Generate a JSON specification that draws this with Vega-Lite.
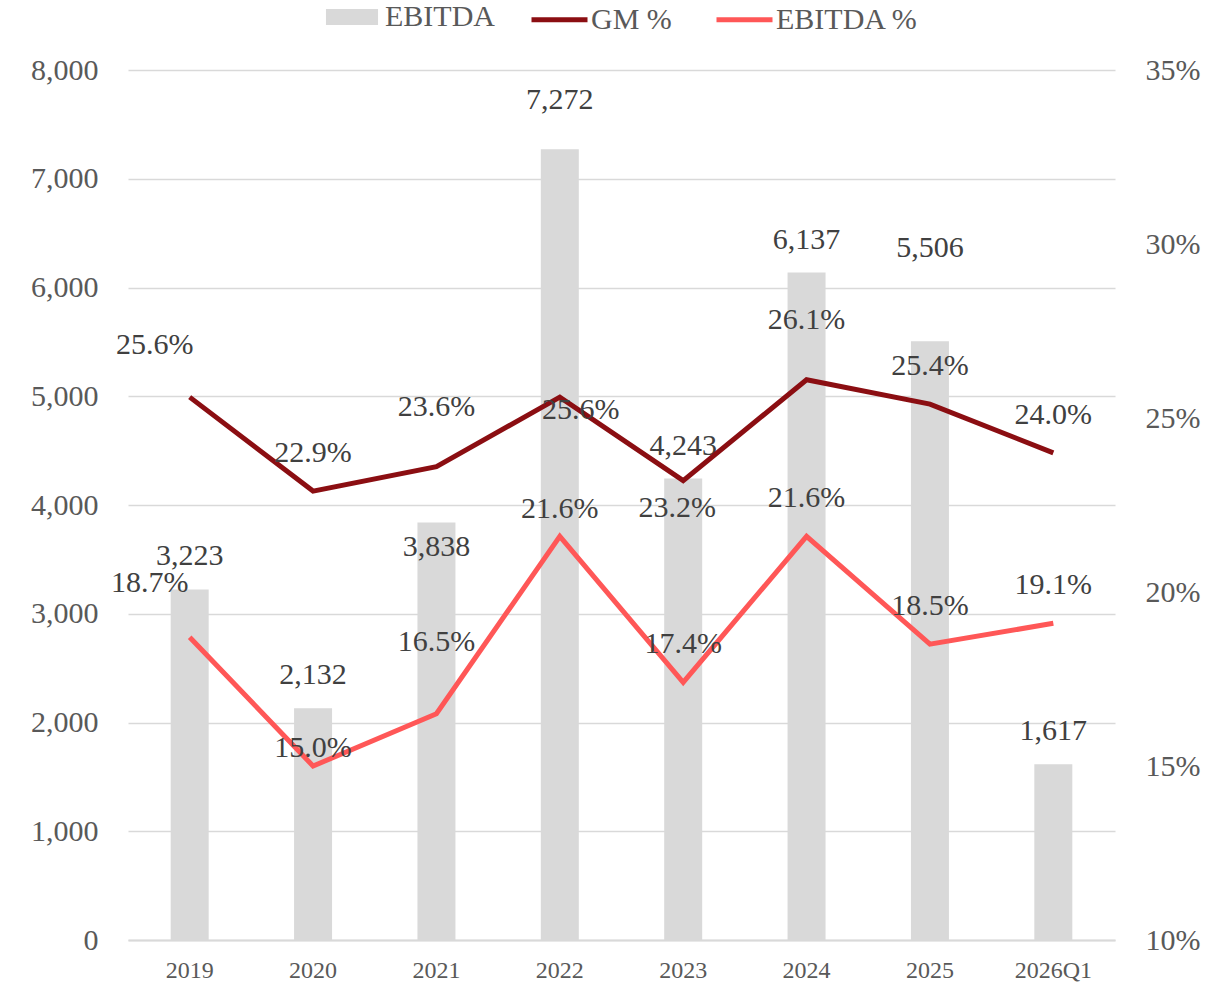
{
  "$schema": "https://vega.github.io/schema/vega-lite/v6.json",
  "width": 987,
  "height": 870,
  "autosize": "none",
  "padding": {"left": 128, "top": 70, "right": 101, "bottom": 55},
  "background": "white",
  "data": {
    "values": [
      {"year": "2019", "EBITDA": 3223, "GM %": 0.256, "EBITDA %": 0.187},
      {"year": "2020", "EBITDA": 2132, "GM %": 0.229, "EBITDA %": 0.150},
      {"year": "2021", "EBITDA": 3838, "GM %": 0.236, "EBITDA %": 0.165},
      {"year": "2022", "EBITDA": 7272, "GM %": 0.256, "EBITDA %": 0.216},
      {"year": "2023", "EBITDA": 4243, "GM %": 0.232, "EBITDA %": 0.174},
      {"year": "2024", "EBITDA": 6137, "GM %": 0.261, "EBITDA %": 0.216},
      {"year": "2025", "EBITDA": 5506, "GM %": 0.254, "EBITDA %": 0.185},
      {"year": "2026Q1", "EBITDA": 1617, "GM %": 0.240, "EBITDA %": 0.191}
    ]
  },
  "encoding": {
    "x": {
      "field": "year", "type": "nominal", "sort": null,
      "scale": {"paddingInner": 0, "paddingOuter": 0},
      "axis": {"title": null, "labelAngle": 0, "labelFontSize": 24, "labelColor": "#595959", "labelPadding": 18, "ticks": false, "domainColor": "#d9d9d9", "domainWidth": 2, "grid": false}
    }
  },
  "layer": [
    {
      "encoding": {
        "y": {
          "field": "EBITDA", "type": "quantitative",
          "scale": {"domain": [0, 8000], "nice": false},
          "axis": {"title": null, "orient": "left", "values": [0,1000,2000,3000,4000,5000,6000,7000,8000], "format": ",d", "labelFontSize": 30, "labelColor": "#595959", "labelPadding": 30, "ticks": false, "domain": false, "grid": true, "gridColor": "#d9d9d9", "gridWidth": 1.5}
        },
        "text": {"field": "EBITDA", "type": "quantitative", "format": ",d"}
      },
      "layer": [
        {
          "mark": {"type": "bar", "size": 38},
          "encoding": {
            "fill": {
              "datum": "EBITDA", "type": "nominal",
              "scale": {"domain": ["EBITDA"], "range": ["#d9d9d9"]},
              "legend": {"title": null, "orient": "top", "symbolType": "M-0.93,-0.29H0.93V0.29H-0.93Z", "symbolSize": 3136, "symbolStrokeWidth": 0, "labelFontSize": 30, "labelColor": "#595959", "labelOffset": 5, "offset": 35}
            }
          }
        },
        {
          "transform": [{"filter": "indexof(['2019','2020','2023','2024','2026Q1'], datum.year) >= 0"}],
          "mark": {"type": "text", "baseline": "middle", "align": "center", "dy": -33, "fontSize": 30, "color": "#404040"}
        },
        {
          "transform": [{"filter": "datum.year === '2021'"}],
          "mark": {"type": "text", "baseline": "middle", "align": "center", "dy": 24, "fontSize": 30, "color": "#404040"}
        },
        {
          "transform": [{"filter": "datum.year === '2022'"}],
          "mark": {"type": "text", "baseline": "middle", "align": "center", "dy": -49, "fontSize": 30, "color": "#404040"}
        },
        {
          "transform": [{"filter": "datum.year === '2025'"}],
          "mark": {"type": "text", "baseline": "middle", "align": "center", "dy": -93, "fontSize": 30, "color": "#404040"}
        }
      ]
    },
    {
      "transform": [{"fold": ["GM %", "EBITDA %"], "as": ["series", "pct"]}],
      "encoding": {
        "y": {
          "field": "pct", "type": "quantitative",
          "scale": {"domain": [0.1, 0.35], "nice": false},
          "axis": {"title": null, "orient": "right", "values": [0.1,0.15,0.2,0.25,0.3,0.35], "format": ".0%", "labelFontSize": 30, "labelColor": "#595959", "labelPadding": 30, "ticks": false, "domain": false, "grid": false}
        },
        "text": {"field": "pct", "type": "quantitative", "format": ".1%"}
      },
      "layer": [
        {
          "mark": {"type": "line", "strokeWidth": 5},
          "encoding": {
            "stroke": {
              "field": "series", "type": "nominal",
              "scale": {"domain": ["GM %", "EBITDA %"], "range": ["#8b0e12", "#ff5757"]},
              "legend": {"title": null, "orient": "top", "symbolType": "stroke", "symbolSize": 3136, "symbolStrokeWidth": 5, "labelFontSize": 30, "labelColor": "#595959", "labelOffset": 1, "columnPadding": 34, "offset": 35}
            },
            "detail": {"field": "series"}
          }
        },
        {
          "transform": [{"filter": "datum.series === 'GM %' && indexof(['2020','2025','2026Q1'], datum.year) >= 0"}],
          "mark": {"type": "text", "baseline": "middle", "align": "center", "dy": -38, "fontSize": 30, "color": "#404040"}
        },
        {
          "transform": [{"filter": "datum.series === 'GM %' && indexof(['2021','2024'], datum.year) >= 0"}],
          "mark": {"type": "text", "baseline": "middle", "align": "center", "dy": -60, "fontSize": 30, "color": "#404040"}
        },
        {
          "transform": [{"filter": "datum.series === 'GM %' && datum.year === '2019'"}],
          "mark": {"type": "text", "baseline": "middle", "align": "center", "dx": -35, "dy": -52, "fontSize": 30, "color": "#404040"}
        },
        {
          "transform": [{"filter": "datum.series === 'GM %' && datum.year === '2022'"}],
          "mark": {"type": "text", "baseline": "middle", "align": "center", "dx": 21, "dy": 13, "fontSize": 30, "color": "#404040"}
        },
        {
          "transform": [{"filter": "datum.series === 'GM %' && datum.year === '2023'"}],
          "mark": {"type": "text", "baseline": "middle", "align": "center", "dx": -6, "dy": 27, "fontSize": 30, "color": "#404040"}
        },
        {
          "transform": [{"filter": "datum.series === 'EBITDA %' && indexof(['2023','2024','2025','2026Q1'], datum.year) >= 0"}],
          "mark": {"type": "text", "baseline": "middle", "align": "center", "dy": -38, "fontSize": 30, "color": "#404040"}
        },
        {
          "transform": [{"filter": "datum.series === 'EBITDA %' && datum.year === '2019'"}],
          "mark": {"type": "text", "baseline": "middle", "align": "center", "dx": -40, "dy": -54, "fontSize": 30, "color": "#404040"}
        },
        {
          "transform": [{"filter": "datum.series === 'EBITDA %' && datum.year === '2020'"}],
          "mark": {"type": "text", "baseline": "middle", "align": "center", "dy": -18, "fontSize": 30, "color": "#404040"}
        },
        {
          "transform": [{"filter": "datum.series === 'EBITDA %' && datum.year === '2021'"}],
          "mark": {"type": "text", "baseline": "middle", "align": "center", "dy": -72, "fontSize": 30, "color": "#404040"}
        },
        {
          "transform": [{"filter": "datum.series === 'EBITDA %' && datum.year === '2022'"}],
          "mark": {"type": "text", "baseline": "middle", "align": "center", "dy": -27, "fontSize": 30, "color": "#404040"}
        }
      ]
    }
  ],
  "resolve": {"scale": {"y": "independent"}},
  "config": {
    "font": "Liberation Serif",
    "view": {"stroke": null},
    "legend": {"layout": {"top": {"anchor": "middle", "direction": "horizontal", "margin": 34}}}
  }
}
